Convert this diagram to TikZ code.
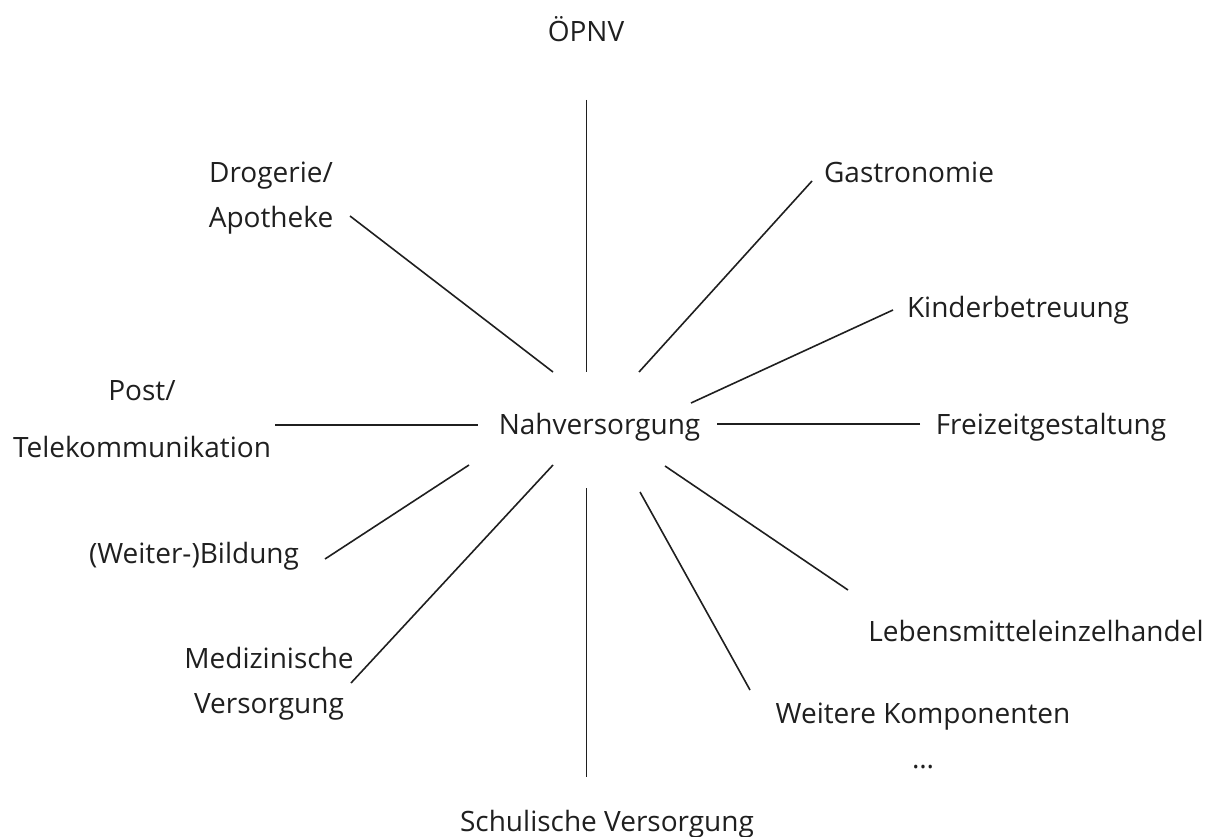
\documentclass[tikz,border=0pt]{standalone}
\usepackage{fontspec}
\setmainfont{Open Sans}
\begin{document}
\begin{tikzpicture}[x=1pt,y=-1pt,
  lbl/.style={inner sep=0pt,align=center,anchor=base,font=\fontsize{28}{45}\selectfont,text=black!88},
  ln/.style={line width=1.6pt,black!88}]
\useasboundingbox (0,0) rectangle (1215,837);
\node[lbl] (hub) at (599.5,434) {Nahversorgung};
\node[lbl] (oepnv) at (586,42) {ÖPNV};
\node[lbl] (schul) at (607,831) {Schulische Versorgung};
\node[lbl] (drog) at (271,228) {Drogerie/\\Apotheke};
\node[lbl] (gastro) at (909,183) {Gastronomie};
\node[lbl] (kinder) at (1018,317) {Kinderbetreuung};
\node[lbl] (frei) at (1051,434) {Freizeitgestaltung};
\node[lbl] (lebens) at (1036,641) {Lebensmitteleinzelhandel};
\node[lbl] (weitere) at (923,768) {Weitere Komponenten\\\dots};
\node[lbl] (post) at (142,457) {Post/\\[12pt]Telekommunikation};
\node[lbl] (bild) at (194,563) {(Weiter-)Bildung};
\node[lbl] (med) at (269,713) {Medizinische\\Versorgung};
% line ends
\coordinate (t1) at (586.5,100); \coordinate (t2) at (586.5,372);
\coordinate (b1) at (586.5,488); \coordinate (b2) at (586.5,777);
\coordinate (d1) at (350,216); \coordinate (d2) at (553,372);
\coordinate (g1) at (812,181); \coordinate (g2) at (639,372);
\coordinate (k1) at (893,310); \coordinate (k2) at (691,403);
\coordinate (f1) at (920,424); \coordinate (f2) at (717,424);
\coordinate (l1) at (848,590); \coordinate (l2) at (665,466);
\coordinate (w1) at (750,690); \coordinate (w2) at (640,492);
\coordinate (p1) at (275,425); \coordinate (p2) at (478,425);
\coordinate (bi1) at (325,559); \coordinate (bi2) at (469,465);
\coordinate (m1) at (351,683); \coordinate (m2) at (553,465);
\foreach \a/\b in {t1/t2,b1/b2,d1/d2,g1/g2,k1/k2,f1/f2,l1/l2,w1/w2,p1/p2,bi1/bi2,m1/m2}
  \draw[ln] (\a) -- (\b);
\end{tikzpicture}
\end{document}
